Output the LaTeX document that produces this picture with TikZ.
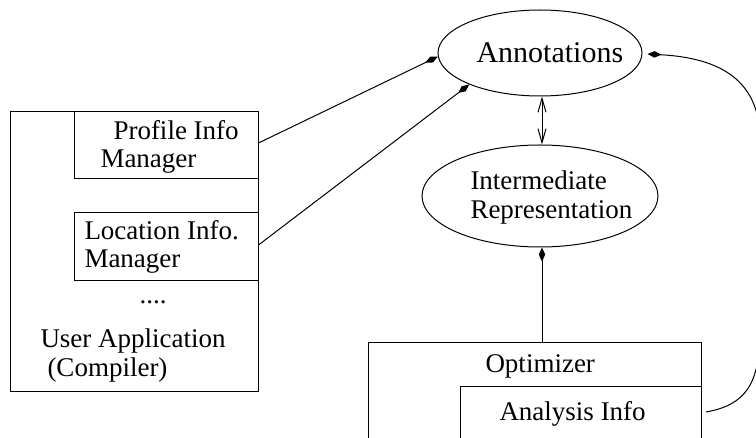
\documentclass[tikz,border=0pt]{standalone}
\usepackage{fontspec}
\setmainfont{Liberation Serif}
\usetikzlibrary{arrows.meta,shapes.geometric,calc}
\begin{document}
\begin{tikzpicture}[x=0.5pt,y=-0.5pt,line width=0.5pt,
  txt/.style={font=\fontsize{13.5}{14.5}\selectfont, inner sep=0pt, anchor=base west},
  bigtxt/.style={font=\fontsize{15}{16}\selectfont, inner sep=0pt, anchor=base west},
  boxn/.style={draw, rectangle, inner sep=0pt},
  ell/.style={draw, ellipse, inner sep=0pt},
  kite/.style={-{Kite[length=7pt,width=3.2pt,inset=3.5pt]}},
  barb/.style={{Straight Barb[length=7pt,width=4pt]}-{Straight Barb[length=7pt,width=4pt]}}]
\useasboundingbox (0,0) rectangle (756,438);
\clip (0,0) rectangle (756,438);
% left boxes
\node[boxn, minimum width=124pt, minimum height=140pt] (app) at (134,252) {};
\node[boxn, minimum width=92pt, minimum height=33.5pt] (profile) at (166,145.5) {};
\node[boxn, minimum width=92pt, minimum height=34pt] (location) at (166,247) {};
\node[txt] (t1) at (113,140) {Profile Info};
\node[txt] (t2) at (100,168) {Manager};
\node[txt] (t3) at (84,240) {Location Info.};
\node[txt] (t4) at (84,268) {Manager};
\node[txt] (t5) at (139,304) {....};
\node[txt] (t6) at (40,348) {User Application};
\node[txt] (t7) at (47,377) {(Compiler)};
% ellipses
\node[ell, minimum width=102pt, minimum height=43pt] (annot) at (540,53) {};
\node[bigtxt] (ta) at (476,63) {Annotations};
\node[ell, minimum width=118pt, minimum height=51pt] (ir) at (540,196) {};
\node[txt] (ti1) at (470,190) {Intermediate};
\node[txt] (ti2) at (470,219) {Representation};
% optimizer
\node[boxn, minimum width=166.5pt, minimum height=63.5pt] (opt) at (534.5,406.5) {};
\node[boxn, minimum width=120.5pt, minimum height=41.5pt] (ana) at (580.5,428.5) {};
\node[txt] (to) at (485,373) {Optimizer};
\node[txt] (tan) at (499,421) {Analysis Info};
% connectors
\coordinate (pstart) at ($(profile.east)+(0,-2.5)$);
\coordinate (lstart) at ($(location.east)+(0,-2)$);
\draw[kite] (pstart) -- (annot.182);
\draw[kite] (lstart) -- (annot.204);
\draw[barb] (annot.south -| 542,0) -- (ir.north -| 542,0);
\draw[kite] (opt.north -| 542,0) -- (ir.south -| 542,0);
\coordinate (cstart) at (706,412);
\coordinate (cend) at ($(annot.east)+(5,1)$);
\draw[kite] (cstart) .. controls (745,405) and (760,385) .. (760,330) -- (760,140) .. controls (760,80) and (720,58) .. (cend);
\end{tikzpicture}
\end{document}
